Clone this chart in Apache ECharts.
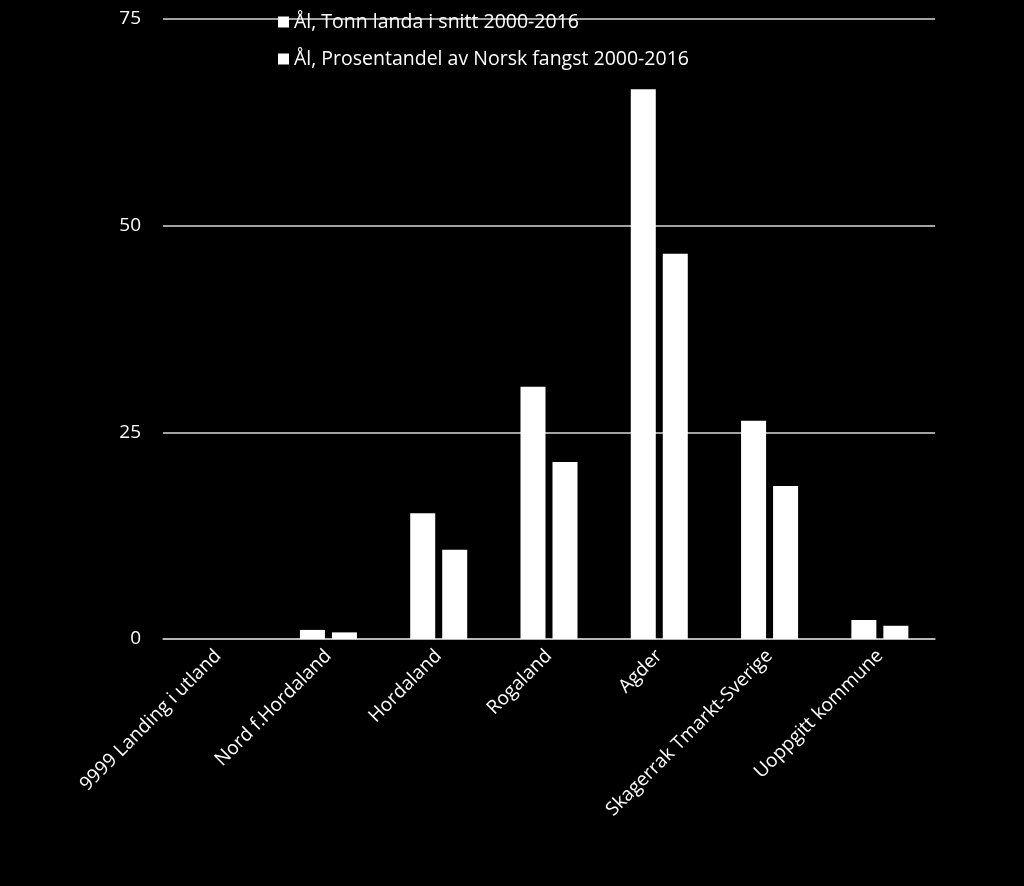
<!DOCTYPE html>
<html><head><meta charset="utf-8">
<script src="https://cdn.jsdelivr.net/npm/echarts@6/dist/echarts.min.js"></script>
<style>html,body{margin:0;padding:0;background:#000;}#c{width:1024px;height:886px;}</style>
</head><body><div id="c"></div>
<script>
const categories = ["9999 Landing i utland","Nord f.Hordaland","Hordaland","Rogaland","Agder","Skagerrak Tmarkt-Sverige","Uoppgitt kommune"];
const tonnLanda = [0, 1.1, 15.2, 30.5, 66.5, 26.4, 2.3];
const prosentandel = [0, 0.8, 10.8, 21.4, 46.6, 18.5, 1.6];
const seriesNames = ["Ål, Tonn landa i snitt 2000-2016","Ål, Prosentandel av Norsk fangst 2000-2016"];
const yTicks = [0, 25, 50, 75];

const font = "Open Sans";
const chart = echarts.init(document.getElementById('c'));
chart.setOption({
  backgroundColor: '#000',
  animation: false,
  textStyle: {fontFamily: font},
  legend: {
    orient: 'vertical', left: 273, top: 7, itemGap: 17,
    itemWidth: 11, itemHeight: 11, icon: 'rect',
    textStyle: {color: '#fff', fontSize: 19.5, fontFamily: font},
    data: seriesNames
  },
  grid: {left: 163, right: 89, top: 19, bottom: 247, containLabel: false},
  xAxis: {
    type: 'category', data: categories,
    axisLine: {show: true, lineStyle: {color: '#bfbfbf', width: 1.5}},
    axisTick: {show: false},
    axisLabel: {color: '#fff', fontSize: 19, rotate: 45, interval: 0, margin: 14, fontFamily: font}
  },
  yAxis: {
    type: 'value', min: yTicks[0], max: yTicks[yTicks.length-1], interval: 25,
    axisLine: {show: false}, axisTick: {show: false},
    axisLabel: {color: '#fff', fontSize: 19, margin: 22, fontFamily: font},
    splitLine: {lineStyle: {color: '#d9d9d9', width: 1.5}}
  },
  series: [
    {name: seriesNames[0], type: 'bar', data: tonnLanda, barWidth: 25, barGap: '28%', itemStyle: {color: '#fff'}},
    {name: seriesNames[1], type: 'bar', data: prosentandel, barWidth: 25, itemStyle: {color: '#fff'}}
  ]
});
</script></body></html>
